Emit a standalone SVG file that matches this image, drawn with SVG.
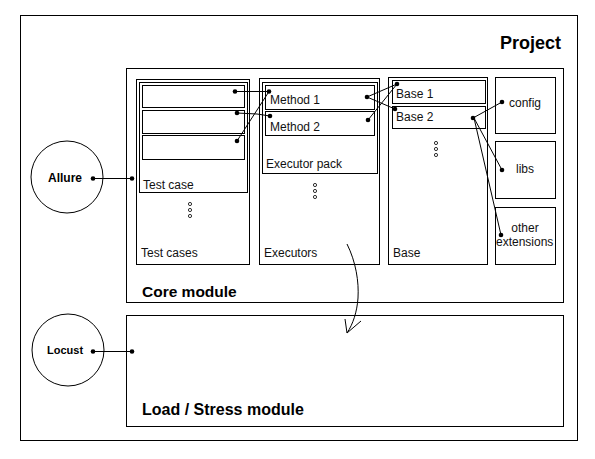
<svg xmlns="http://www.w3.org/2000/svg" width="595" height="459" viewBox="0 0 595 459">
<style>
.box{fill:none;stroke:#000;stroke-width:1;shape-rendering:crispEdges}
.ln{fill:none;stroke:#000;stroke-width:1}
.t{font-family:"Liberation Sans",Arial,sans-serif;font-size:12px;fill:#111}
.b{font-family:"Liberation Sans",Arial,sans-serif;font-weight:bold;fill:#000}
.dot{fill:#000}
.od{fill:#fff;stroke:#000;stroke-width:0.8}
</style>
<defs>
<g id="vd"><circle cx="0" cy="0" r="1.6" class="od"/><circle cx="0" cy="6" r="1.6" class="od"/><circle cx="0" cy="12" r="1.6" class="od"/></g>
</defs>
<rect width="595" height="459" fill="#fff"/>
<g id="project"><rect class="box" x="20.5" y="15.5" width="557" height="425"/><text class="b" x="500" y="49" font-size="18">Project</text></g>
<g id="core"><rect class="box" x="126.5" y="68.5" width="437" height="234"/><text class="b" x="142" y="297" font-size="15.5">Core module</text></g>
<g id="testcases"><rect class="box" x="136.5" y="79.5" width="113" height="185"/><text class="t" x="141" y="257">Test cases</text><use href="#vd" x="190" y="204"/></g>
<g id="testcase"><rect class="box" x="139.5" y="82.5" width="108" height="110"/><text class="t" x="143" y="189" font-size="11.5">Test case</text>
<rect class="box" x="142.5" y="85.5" width="102" height="22"/><rect class="box" x="142.5" y="110.5" width="102" height="23"/><rect class="box" x="142.5" y="135.5" width="102" height="24"/></g>
<g id="executors"><rect class="box" x="259.5" y="78.5" width="120" height="186"/><text class="t" x="264" y="257">Executors</text><use href="#vd" x="315" y="185"/></g>
<g id="executorpack"><rect class="box" x="262.5" y="82.5" width="115" height="91"/><text class="t" x="266" y="168" font-size="11.5">Executor pack</text>
<rect class="box" x="265.5" y="85.5" width="109" height="24"/><text class="t" x="270" y="104">Method 1</text>
<rect class="box" x="265.5" y="111.5" width="109" height="24"/><text class="t" x="270" y="131">Method 2</text></g>
<g id="base"><rect class="box" x="388.5" y="77.5" width="99" height="187"/><text class="t" x="393" y="257">Base</text><use href="#vd" x="436" y="143"/>
<rect class="box" x="392.5" y="80.5" width="93" height="23"/><text class="t" x="396" y="98">Base 1</text>
<rect class="box" x="392.5" y="106.5" width="93" height="22"/><text class="t" x="396" y="121">Base 2</text></g>
<g id="config"><rect class="box" x="495.5" y="77.5" width="60" height="56"/><text class="t" x="509" y="107" font-size="11.5">config</text></g>
<g id="libs"><rect class="box" x="495.5" y="141.5" width="60" height="57"/><text class="t" x="516" y="173" font-size="11.5">libs</text></g>
<g id="other"><rect class="box" x="495.5" y="207.5" width="60" height="57"/><text class="t" x="525" y="232" font-size="11.5" text-anchor="middle">other</text><text class="t" x="496" y="246" font-size="11.5">extensions</text></g>
<g id="load"><rect class="box" x="126.5" y="315.5" width="437" height="111"/><text class="b" x="142" y="415" font-size="16">Load / Stress module</text></g>
<g id="allure"><circle cx="67" cy="177" r="36" class="ln"/><text class="b" x="48" y="182" font-size="12">Allure</text></g>
<g id="locust"><circle cx="68" cy="350" r="36" class="ln"/><text class="b" x="47" y="354" font-size="11">Locust</text></g>
<g id="connectors">
<line class="ln" x1="93" y1="178.5" x2="132" y2="178.5"/><circle class="dot" cx="93" cy="178.5" r="2.3"/><circle class="dot" cx="132" cy="178.5" r="2.3"/>
<line class="ln" x1="93" y1="351.5" x2="132" y2="351.5"/><circle class="dot" cx="93" cy="351.5" r="2.3"/><circle class="dot" cx="132" cy="351.5" r="2.3"/>
<line class="ln" x1="235" y1="91.5" x2="269" y2="91.5"/><circle class="dot" cx="235" cy="91.5" r="2.3"/><circle class="dot" cx="269" cy="91.5" r="2.3"/>
<polyline class="ln" points="237,113 257,114 270,116"/><circle class="dot" cx="237" cy="113" r="2.3"/><circle class="dot" cx="270" cy="116" r="2.3"/>
<line class="ln" x1="237" y1="141" x2="269" y2="91.5"/><circle class="dot" cx="237" cy="141" r="2.3"/>
<line class="ln" x1="367" y1="97" x2="397" y2="84"/><line class="ln" x1="367" y1="97" x2="395" y2="109"/><line class="ln" x1="368" y1="120" x2="397" y2="84"/>
<circle class="dot" cx="367" cy="97" r="2.3"/><circle class="dot" cx="368" cy="120" r="2.3"/><circle class="dot" cx="397" cy="84" r="2.3"/><circle class="dot" cx="395" cy="109" r="2.3"/>
<line class="ln" x1="473" y1="118" x2="502" y2="102"/><line class="ln" x1="474" y1="118" x2="502" y2="170"/><line class="ln" x1="474" y1="118" x2="501" y2="235"/>
<circle class="dot" cx="473" cy="118" r="2.3"/><circle class="dot" cx="502" cy="102" r="2.3"/><circle class="dot" cx="502" cy="170" r="2.3"/><circle class="dot" cx="501" cy="235" r="2.3"/>
<path class="ln" d="M347,244 C356,262 359,282 358,298 C357,312 353,324 347,333"/>
<path class="ln" d="M345,319 L347,333 L361,321"/>
</g>
</svg>
